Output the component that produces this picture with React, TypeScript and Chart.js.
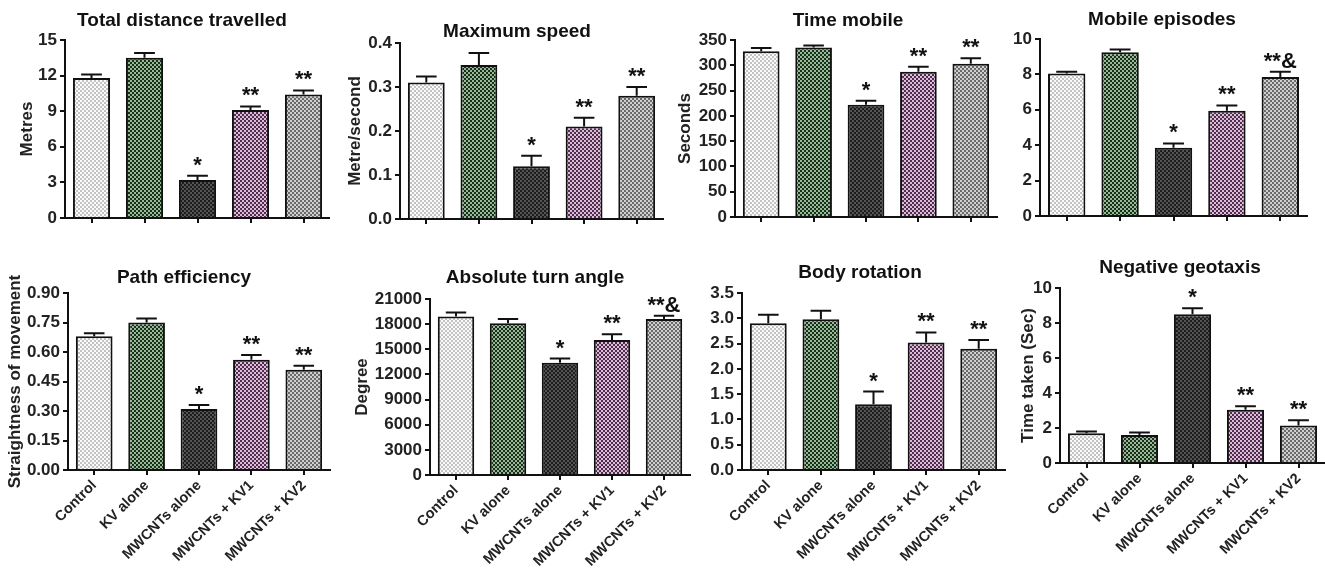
import React, { useEffect, useRef } from 'react';
import { Chart, registerables } from 'chart.js';

Chart.register(...registerables);
Chart.defaults.font.family = '"Liberation Sans", Arial, sans-serif';

const categories = ['Control', 'KV alone', 'MWCNTs alone', 'MWCNTs + KV1', 'MWCNTs + KV2'];

// Total distance travelled (Metres)
const distanceMean = [11.8, 13.5, 3.2, 9.1, 10.4];
const distanceSem = [0.3, 0.4, 0.35, 0.3, 0.35];
const distanceSig = ['', '', '*', '**', '**'];
const distanceTicks = ['0', '3', '6', '9', '12', '15'];

// Maximum speed (Metre/second)
const speedMean = [0.31, 0.35, 0.12, 0.21, 0.28];
const speedSem = [0.014, 0.027, 0.024, 0.02, 0.02];
const speedSig = ['', '', '*', '**', '**'];
const speedTicks = ['0.0', '0.1', '0.2', '0.3', '0.4'];

// Time mobile (Seconds)
const timeMean = [328, 335, 222, 287, 303];
const timeSem = [6, 4, 8, 10, 11];
const timeSig = ['', '', '*', '**', '**'];
const timeTicks = ['0', '50', '100', '150', '200', '250', '300', '350'];

// Mobile episodes
const episodesMean = [8.05, 9.25, 3.85, 5.95, 7.85];
const episodesSem = [0.1, 0.15, 0.25, 0.3, 0.3];
const episodesSig = ['', '', '*', '**', '**&'];
const episodesTicks = ['0', '2', '4', '6', '8', '10'];

// Path efficiency (Straightness of movement)
const pathMean = [0.68, 0.75, 0.31, 0.56, 0.51];
const pathSem = [0.015, 0.02, 0.02, 0.025, 0.02];
const pathSig = ['', '', '*', '**', '**'];
const pathTicks = ['0.00', '0.15', '0.30', '0.45', '0.60', '0.75', '0.90'];

// Absolute turn angle (Degree)
const turnMean = [18900, 18100, 13400, 16100, 18600];
const turnSem = [500, 500, 500, 700, 400];
const turnSig = ['', '', '*', '**', '**&'];
const turnTicks = ['0', '3000', '6000', '9000', '12000', '15000', '18000', '21000'];

// Body rotation
const rotationMean = [2.9, 2.98, 1.3, 2.52, 2.4];
const rotationSem = [0.17, 0.17, 0.25, 0.2, 0.17];
const rotationSig = ['', '', '*', '**', '**'];
const rotationTicks = ['0.0', '0.5', '1.0', '1.5', '2.0', '2.5', '3.0', '3.5'];

// Negative geotaxis (Time taken, Sec)
const geotaxisMean = [1.7, 1.6, 8.5, 3.05, 2.15];
const geotaxisSem = [0.1, 0.15, 0.35, 0.2, 0.3];
const geotaxisSig = ['', '', '*', '**', '**'];
const geotaxisTicks = ['0', '2', '4', '6', '8', '10'];

const panels = [
  { title: 'Total distance travelled', yTitle: 'Metres', mean: distanceMean, sem: distanceSem, sig: distanceSig, ticks: distanceTicks, xLabels: false },
  { title: 'Maximum speed', yTitle: 'Metre/second', mean: speedMean, sem: speedSem, sig: speedSig, ticks: speedTicks, xLabels: false },
  { title: 'Time mobile', yTitle: 'Seconds', mean: timeMean, sem: timeSem, sig: timeSig, ticks: timeTicks, xLabels: false },
  { title: 'Mobile episodes', yTitle: '', mean: episodesMean, sem: episodesSem, sig: episodesSig, ticks: episodesTicks, xLabels: false },
  { title: 'Path efficiency', yTitle: 'Straightness of movement', mean: pathMean, sem: pathSem, sig: pathSig, ticks: pathTicks, xLabels: true },
  { title: 'Absolute turn angle', yTitle: 'Degree', mean: turnMean, sem: turnSem, sig: turnSig, ticks: turnTicks, xLabels: true },
  { title: 'Body rotation', yTitle: '', mean: rotationMean, sem: rotationSem, sig: rotationSig, ticks: rotationTicks, xLabels: true },
  { title: 'Negative geotaxis', yTitle: 'Time taken (Sec)', mean: geotaxisMean, sem: geotaxisSem, sig: geotaxisSig, ticks: geotaxisTicks, xLabels: true },
];

// canvas boxes and layout tuning (cl/ct: canvas origin, lAbs: y-scale left, W: spare right box)
const layouts = [
  { cl: 10, ct: 0, cw: 320, ch: 250, lAbs: 34, yw: 31, W: 0, yPad: -17.2, tTop: 9.6, tBot: 7.6, xh: 32 },
  { cl: 340, ct: 0, cw: 330, ch: 250, lAbs: 364, yw: 36, W: 7, yPad: -19.2, tTop: 20.6, tBot: -0.4, xh: 31 },
  { cl: 668, ct: 0, cw: 333, ch: 250, lAbs: 695, yw: 40, W: 4, yPad: -20.2, tTop: 9.6, tBot: 7.6, xh: 33 },
  { cl: 1000, ct: 0, cw: 314, ch: 250, lAbs: 1010, yw: 30, W: 7, yPad: 0, tTop: 8.6, tBot: 7.6, xh: 34 },
  { cl: 0, ct: 250, cw: 344, ch: 318, lAbs: 24, yw: 44, W: 14, yPad: -19.2, tTop: 16.6, tBot: 3.6, xh: 98 },
  { cl: 345, ct: 250, cw: 354, ch: 318, lAbs: 371, yw: 59, W: 9, yPad: -19.2, tTop: 16.6, tBot: 9.6, xh: 93 },
  { cl: 700, ct: 250, cw: 314, ch: 318, lAbs: 706, yw: 36, W: 9, yPad: 0, tTop: 11.6, tBot: 8.6, xh: 98 },
  { cl: 1010, ct: 250, cw: 320, ch: 318, lAbs: 1030, yw: 30, W: 5, yPad: -12.2, tTop: 6.6, tBot: 8.6, xh: 105 },
];

const barStyles = [
  { base: '#fbfbfb', dot: '#c2c2c2' },
  { base: '#173017', dot: '#98b698' },
  { base: '#1c1c1c', dot: '#545454' },
  { base: '#4e2e4c', dot: '#dcbcd9' },
  { base: '#6a6a6a', dot: '#cfcfcf' },
];

function makePattern(base: string, dot: string) {
  const c = document.createElement('canvas');
  c.width = 4;
  c.height = 4;
  const g = c.getContext('2d')!;
  g.fillStyle = base;
  g.fillRect(0, 0, 4, 4);
  g.fillStyle = dot;
  g.fillRect(0, 0, 2, 2);
  g.fillRect(2, 2, 2, 2);
  return g.createPattern(c, 'repeat')!;
}

function makeErrorPlugin(sem: number[], sig: string[]) {
  return {
    id: 'errorBars',
    afterDatasetsDraw(chart: any) {
      const { ctx } = chart;
      const meta = chart.getDatasetMeta(0);
      const data = chart.data.datasets[0].data as number[];
      const yScale = chart.scales.y;
      ctx.save();
      meta.data.forEach((bar: any, i: number) => {
        const p = bar.getProps(['x', 'y', 'width'], true);
        const yErr = yScale.getPixelForValue(data[i] + sem[i]);
        const half = p.width * 0.28;
        ctx.strokeStyle = '#111';
        ctx.lineWidth = 2;
        ctx.beginPath();
        ctx.moveTo(p.x, p.y);
        ctx.lineTo(p.x, yErr);
        ctx.moveTo(p.x - half, yErr);
        ctx.lineTo(p.x + half, yErr);
        ctx.stroke();
        if (sig[i]) {
          ctx.font = 'bold 22px "Liberation Sans", Arial, sans-serif';
          ctx.fillStyle = '#111';
          ctx.textAlign = 'center';
          ctx.textBaseline = 'alphabetic';
          ctx.fillText(sig[i], p.x, yErr - 4);
        }
      });
      ctx.restore();
    },
  };
}

function Panel({ spec, lay }: { spec: any; lay: any }) {
  const ref = useRef<HTMLCanvasElement>(null);
  useEffect(() => {
    const canvas = ref.current!;
    const fills = barStyles.map((s) => makePattern(s.base, s.dot));
    const tickVals = spec.ticks.map(Number);
    const chart = new Chart(canvas, {
      type: 'bar',
      data: {
        labels: categories,
        datasets: [
          {
            data: spec.mean,
            backgroundColor: fills,
            borderColor: '#111',
            borderWidth: 2,
            borderSkipped: 'start',
            barPercentage: 0.7,
            categoryPercentage: 1,
            yAxisID: 'y',
          },
        ],
      },
      options: {
        responsive: false,
        maintainAspectRatio: false,
        animation: false,
        layout: { padding: { left: lay.lAbs - lay.cl, right: 0, top: 0, bottom: 0 } },
        plugins: {
          legend: { display: false },
          tooltip: { enabled: false },
          title: {
            display: true,
            text: spec.title,
            color: '#111',
            font: { size: 19, weight: 'bold' },
            padding: { top: lay.tTop, bottom: lay.tBot },
          },
        },
        scales: {
          x: {
            type: 'category',
            offset: true,
            grid: {
              display: true,
              drawOnChartArea: false,
              drawTicks: true,
              tickLength: 5,
              color: '#111',
              lineWidth: 2,
              offset: false,
            },
            border: { display: true, color: '#111', width: 2 },
            ticks: {
              display: spec.xLabels,
              autoSkip: false,
              minRotation: spec.xLabels ? 45 : 0,
              maxRotation: spec.xLabels ? 45 : 0,
              padding: 2,
              color: '#222',
              font: { size: 14.5, weight: 'bold' },
            },
            afterFit: (s: any) => {
              s.height = lay.xh;
            },
          },
          y: {
            type: 'linear',
            position: 'left',
            min: tickVals[0],
            max: tickVals[tickVals.length - 1],
            afterBuildTicks: (s: any) => {
              s.ticks = tickVals.map((v: number) => ({ value: v }));
            },
            ticks: {
              color: '#222',
              padding: 3,
              font: { size: 17, weight: 'bold' },
              callback: (v: any) => {
                const i = tickVals.indexOf(Number(v));
                return i >= 0 ? spec.ticks[i] : '';
              },
            },
            grid: {
              display: true,
              drawOnChartArea: false,
              drawTicks: true,
              tickLength: 5,
              color: '#111',
              lineWidth: 2,
            },
            border: { display: true, color: '#111', width: 2 },
            title: {
              display: !!spec.yTitle,
              text: spec.yTitle,
              color: '#222',
              font: { size: 17, weight: 'bold' },
              padding: { top: lay.yPad, bottom: 0 },
            },
            afterFit: (s: any) => {
              s.width = lay.yw;
            },
          },
          spare: {
            type: 'linear',
            position: 'right',
            display: true,
            grid: { display: false, drawTicks: false },
            border: { display: false },
            ticks: { display: false },
            title: { display: false },
            afterFit: (s: any) => {
              s.width = lay.W;
            },
          },
        },
      } as any,
      plugins: [makeErrorPlugin(spec.sem, spec.sig)],
    });
    return () => chart.destroy();
  }, []);
  return (
    <canvas
      ref={ref}
      width={lay.cw}
      height={lay.ch}
      style={{ position: 'absolute', left: lay.cl, top: lay.ct, width: lay.cw, height: lay.ch }}
    />
  );
}

export default function App() {
  return (
    <div
      style={{
        position: 'absolute',
        left: 0,
        top: 0,
        width: 1325,
        height: 568,
        background: '#fff',
        overflow: 'hidden',
      }}
    >
      {panels.map((p, i) => (
        <Panel key={i} spec={p} lay={layouts[i]} />
      ))}
    </div>
  );
}
